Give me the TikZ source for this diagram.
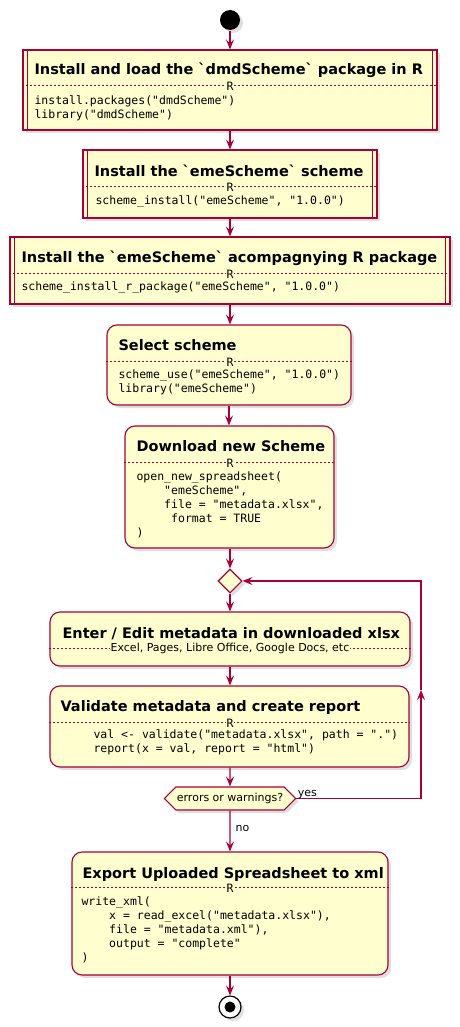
\documentclass[tikz,border=0pt]{standalone}
\usepackage{fontspec}
\usetikzlibrary{arrows.meta,shapes.geometric,shapes.symbols,shadows}
\newfontfamily\headfont{DejaVu Sans}
\newfontfamily\codefont{DejaVu Sans Mono}
\definecolor{umlred}{HTML}{A80036}
\definecolor{umlfill}{HTML}{FEFECE}

\begin{document}
\begin{tikzpicture}[x=1pt,y=-1pt,>={Stealth[length=10pt,width=8pt,inset=4pt]},
                    line width=1.1pt]
  \tikzstyle{every node}=[inner sep=0pt]
  \tikzstyle{shdw}=[drop shadow={shadow xshift=3pt,shadow yshift=-3pt,opacity=0.25}]
  \tikzstyle{actbox}=[draw=umlred,fill=umlfill,rounded corners=10pt,shdw]
  \tikzstyle{subbox}=[actbox,rounded corners=0pt]
  \tikzstyle{headtxt}=[anchor=base west,font=\headfont\bfseries\fontsize{14.5}{17}\selectfont]
  \tikzstyle{codetxt}=[anchor=north west,align=left,font=\codefont\fontsize{11.5}{14}\selectfont]
  \tikzstyle{langtxt}=[fill=umlfill,inner xsep=1pt,font=\codefont\fontsize{11.5}{14}\selectfont]
  \tikzstyle{smalltxt}=[text=black,font=\headfont\fontsize{11}{13}\selectfont]
  \tikzstyle{sepline}=[draw=umlred,line width=0.5pt,dash pattern=on 2pt off 2pt]

  \useasboundingbox (0,0) rectangle (460,1027);

  % start and boxes
  \node[circle,fill=black,minimum size=20pt,shdw] (start) at (230,20) {};
  \node[subbox,minimum width=414pt,minimum height=80pt]  (inst)   at (230,90)    {};
  \node[subbox,minimum width=294pt,minimum height=68pt]  (scheme) at (230,184)   {};
  \node[subbox,minimum width=440pt,minimum height=67pt]  (rpkg)   at (230,270.5) {};
  \node[actbox,minimum width=244pt,minimum height=80pt]  (use)    at (229,365)   {};
  \node[actbox,minimum width=209pt,minimum height=122pt] (dl)     at (229.5,487) {};
  \node[diamond,draw=umlred,fill=umlfill,minimum width=24pt,minimum height=24pt,shdw]
        (merge) at (230,581) {};
  \node[actbox,minimum width=360pt,minimum height=54pt]  (edit)   at (230,639)   {};
  \node[actbox,minimum width=359pt,minimum height=81pt]  (valid)  at (229.5,726.5) {};
  \node[signal,signal to=west and east,signal pointer angle=90,draw=umlred,fill=umlfill,
        minimum height=23pt,inner xsep=1pt,smalltxt,shdw]
        (check) at (230,798.5) {errors or warnings?};
  \node[actbox,minimum width=316pt,minimum height=123pt] (export) at (230,913.5) {};
  \node[circle,draw=black,fill=white,line width=1.2pt,minimum size=22pt,shdw]
        (stop) at (230,1007) {};
  \node[circle,fill=black,minimum size=11pt] (stopdot) at (stop) {};

  \foreach \n in {inst,scheme,rpkg}
    \draw[umlred] ([xshift=5pt]\n.north west) -- ([xshift=5pt]\n.south west)
                  ([xshift=-5pt]\n.north east) -- ([xshift=-5pt]\n.south east);

  % separators
  \draw[sepline] (inst.west |- 0,85)    -- (inst.east |- 0,85);
  \draw[sepline] (scheme.west |- 0,186) -- (scheme.east |- 0,186);
  \draw[sepline] (rpkg.west |- 0,273)   -- (rpkg.east |- 0,273);
  \draw[sepline] (use.west |- 0,361)    -- (use.east |- 0,361);
  \draw[sepline] (dl.west |- 0,462)     -- (dl.east |- 0,462);
  \draw[sepline] (edit.west |- 0,648)   -- (edit.east |- 0,648);
  \draw[sepline] (valid.west |- 0,722)  -- (valid.east |- 0,722);
  \draw[sepline] (export.west |- 0,887) -- (export.east |- 0,887);

  \node[langtxt] (r1) at (230,86)  {R};
  \node[langtxt] (r2) at (230,187) {R};
  \node[langtxt] (r3) at (230,274) {R};
  \node[langtxt] (r4) at (230,362) {R};
  \node[langtxt] (r5) at (230,463) {R};
  \node[langtxt,smalltxt] (r6) at (230,648) {Excel, Pages, Libre Office, Google Docs, etc};
  \node[langtxt] (r7) at (230,723) {R};
  \node[langtxt] (r8) at (230,888) {R};

  % texts
  \node[headtxt] (t1) at (34,75)    {Install and load the `dmdScheme` package in R};
  \node[codetxt] (c1) at (34,95)    {install.packages("dmdScheme")\\library("dmdScheme")};
  \node[headtxt] (t2) at (94,176)   {Install the `emeScheme` scheme};
  \node[codetxt] (c2) at (95,195.5) {scheme\_install("emeScheme", "1.0.0")};
  \node[headtxt] (t3) at (21,262.7) {Install the `emeScheme` acompagnying R package};
  \node[codetxt] (c3) at (21,281.5) {scheme\_install\_r\_package("emeScheme", "1.0.0")};
  \node[headtxt] (t4) at (118,350)  {Select scheme};
  \node[codetxt] (c4) at (118,369.5) {scheme\_use("emeScheme", "1.0.0")\\library("emeScheme")};
  \node[headtxt] (t5) at (136,451)  {Download new Scheme};
  \node[codetxt] (c5) at (136,471.5) {open\_new\_spreadsheet(\\
        \hphantom{0000}"emeScheme",\\
        \hphantom{0000}file = "metadata.xlsx",\\
        \hphantom{00000}format = TRUE\\
        )};
  \node[headtxt] (t6) at (62,638.3) {Enter / Edit metadata in downloaded xlsx};
  \node[headtxt] (t7) at (60,711.7) {Validate metadata and create report};
  \node[codetxt] (c7) at (93,729.5) {val <- validate("metadata.xlsx", path = ".")\\
        report(x = val, report = "html")};
  \node[headtxt] (t8) at (82,878.3) {Export Uploaded Spreadsheet to xml};
  \node[codetxt] (c8) at (81,896)   {write\_xml(\\
        \hphantom{0000}x = read\_excel("metadata.xlsx"),\\
        \hphantom{0000}file = "metadata.xml"),\\
        \hphantom{0000}output = "complete"\\
        )};

  % flow
  \coordinate (loopmid) at (421,690);
  \draw[->,umlred] (start) -- (inst);
  \draw[->,umlred] (inst) -- (scheme);
  \draw[->,umlred] (scheme) -- (rpkg);
  \draw[->,umlred] (rpkg) -- (rpkg |- use.north);
  \draw[->,umlred] (use) -- (use |- dl.north);
  \draw[->,umlred] (dl.south -| merge) -- (merge);
  \draw[->,umlred] (merge) -- (edit);
  \draw[->,umlred] (edit) -- (edit |- valid.north);
  \draw[->,umlred] (valid.south -| check) -- (check);
  \draw[->,umlred] (check) -- node[smalltxt,anchor=west,xshift=5pt,pos=0.43] {no} (export);
  \draw[->,umlred] (export) -- (stop);
  \draw[->,umlred] (check.east) node[smalltxt,anchor=base west,xshift=1pt,yshift=2.5pt] {yes}
        -| (loopmid);
  \draw[->,umlred] (loopmid) |- (merge.east);
\end{tikzpicture}
\end{document}
